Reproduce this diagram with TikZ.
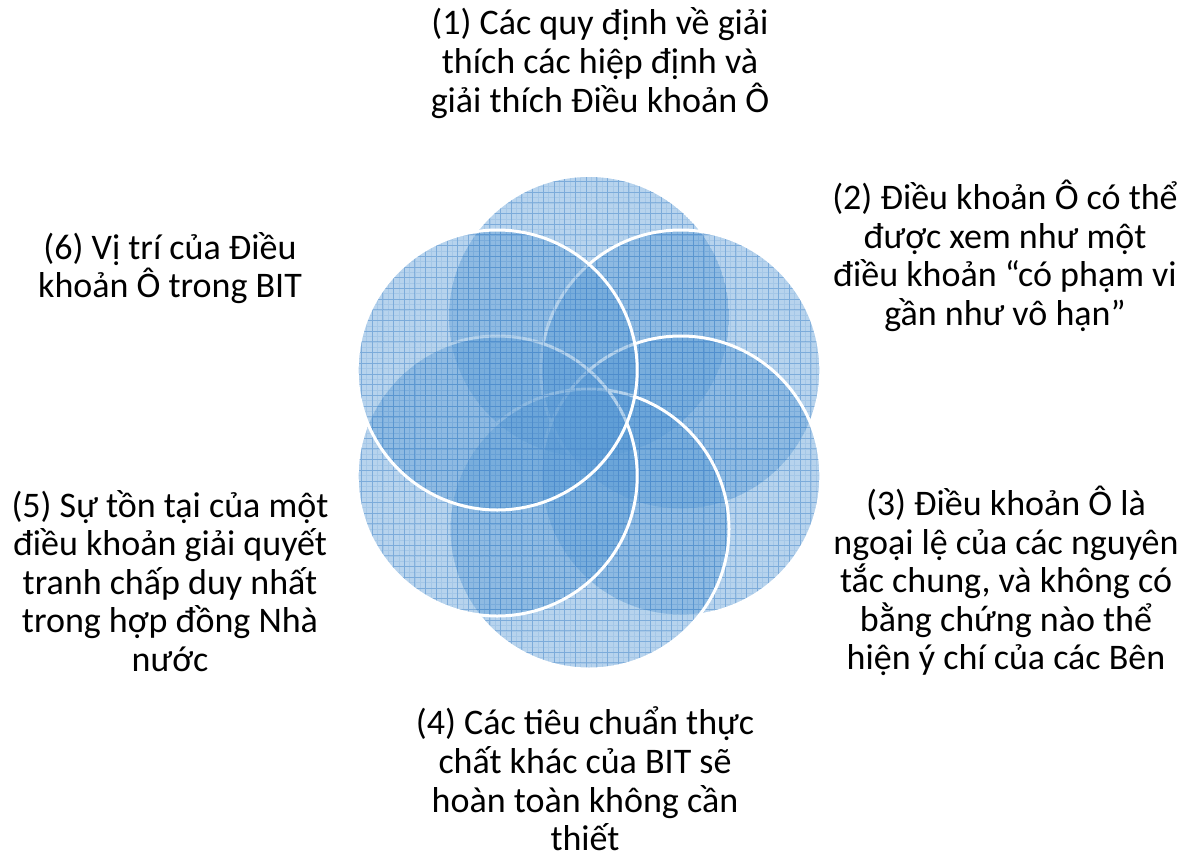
\documentclass[tikz,border=0pt]{standalone}
\usepackage{fontspec}
\setmainfont{Carlito}
\definecolor{vblue}{HTML}{5B9BD5}
\definecolor{vgrid}{HTML}{4A8ACB}
\tikzset{
  lbl/.style={align=center, text=black, font=\fontsize{36}{38.6}\selectfont, inner sep=0pt},
  ring/.style={draw=white, line width=3pt},
  minorgrid/.style={vgrid, opacity=0.16, line width=0.6pt},
  majorgrid/.style={vgrid, opacity=0.45, line width=0.9pt},
}
\newcommand{\vcirc}[1]{%
  \begin{scope}
    \clip (#1) circle (140);
    \fill[vblue, opacity=0.44] (#1) circle (140);
    \draw[minorgrid] \foreach \k in {0,...,100} {(340+5.35*\k,150) -- (340+5.35*\k,700) (340,160+5.35*\k) -- (880,160+5.35*\k)};
    \draw[majorgrid] \foreach \k in {0,...,50} {(340+10.7*\k,150) -- (340+10.7*\k,700) (340,160+10.7*\k) -- (880,160+10.7*\k)};
  \end{scope}}
\begin{document}
\begin{tikzpicture}[x=1pt,y=-1pt]
\useasboundingbox (0,0) rectangle (1180,854);
\coordinate (c1) at (589,317);
\coordinate (c2) at (680.8,370);
\coordinate (c3) at (680.8,476);
\coordinate (c4) at (589,529);
\coordinate (c5) at (497.2,476);
\coordinate (c6) at (497.2,370);
\vcirc{c1}
\vcirc{c2}
\draw[ring] (c2) circle (140);
\vcirc{c3}
\draw[ring] (c3) circle (140);
\vcirc{c4}
\draw[ring] (c4) circle (140);
\vcirc{c5}
\draw[ring] (c5) circle (140);
\vcirc{c6}
\draw[ring] (c6) circle (140);
\node[lbl] (t1) at (600,63) {(1) Các quy định về giải\\thích các hiệp định và\\giải thích Điều khoản Ô};
\node[lbl] (t2) at (1005,256) {(2) Điều khoản Ô có thể\\được xem như một\\điều khoản “có phạm vi\\gần như vô hạn”};
\node[lbl] (t3) at (1006,581) {(3) Điều khoản Ô là\\ngoại lệ của các nguyên\\tắc chung, và không có\\bằng chứng nào thể\\hiện ý chí của các Bên};
\node[lbl] (t4) at (585,779) {(4) Các tiêu chuẩn thực\\chất khác của BIT sẽ\\hoàn toàn không cần\\thiết};
\node[lbl] (t5) at (170,581) {(5) Sự tồn tại của một\\điều khoản giải quyết\\tranh chấp duy nhất\\trong hợp đồng Nhà\\nước};
\node[lbl] (t6) at (170,268) {(6) Vị trí của Điều\\khoản Ô trong BIT};
\end{tikzpicture}
\end{document}
